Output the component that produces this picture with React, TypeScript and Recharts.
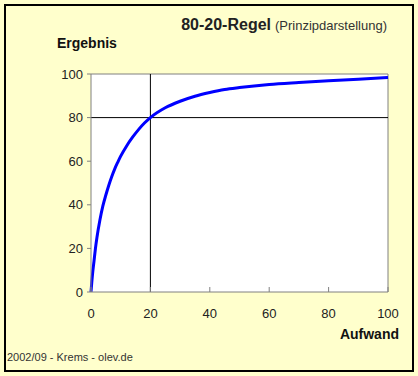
import {
  LineChart,
  Line,
  XAxis,
  YAxis,
  CartesianGrid,
  ReferenceLine,
} from 'recharts'

// Aufwand (x) and Ergebnis (y)
const aufwand = [0, 0.5, 1, 1.5, 2, 3, 4, 5, 6, 7, 8, 9, 10, 12, 14, 16, 18, 20, 25, 30, 35, 40, 45, 50, 60, 70, 80, 90, 100]
const ergebnis = [0, 8, 14, 20, 25, 33, 39.5, 44.5, 49, 53, 56.5, 59.5, 62.3, 67, 71, 74.5, 77.5, 80, 84.5, 87.5, 89.8, 91.5, 92.9, 93.8, 95.2, 96.1, 96.9, 97.6, 98.4]

const ticks = [0, 20, 40, 60, 80, 100]

const data = aufwand.map((x, i) => ({ x, y: ergebnis[i] }))

const FONT = '"Liberation Sans", Arial, sans-serif'
const BG = '#FFFFCC'
const FRAME = '#808080'

function XTick({ x, y, payload }: any) {
  // tickSize is 0, so y = axis line + tickMargin (8)
  const axisY = y - 8
  return (
    <g>
      <line x1={x} x2={x} y1={axisY} y2={axisY - 5} stroke={FRAME} />
      <text x={x} y={axisY + 26} textAnchor="middle" fontSize={13} fill="#222" fontFamily={FONT}>
        {payload.value}
      </text>
    </g>
  )
}

export default function App() {
  return (
    <div style={{ position: 'absolute', left: 0, top: 0, width: 418, height: 376, background: BG }}>
      <div
        style={{
          position: 'absolute',
          left: 4,
          top: 4,
          width: 410,
          height: 368,
          border: '2px solid #000',
          boxSizing: 'border-box',
        }}
      />
      <div style={{ position: 'absolute', left: 0, top: 0 }}>
        <LineChart width={418} height={376} data={data} margin={{ top: 74, right: 30, bottom: 0, left: 0 }}>
          <CartesianGrid horizontal={false} vertical={false} fill="#fff" />
          <XAxis
            dataKey="x"
            type="number"
            domain={[0, 100]}
            ticks={ticks}
            height={84}
            tickSize={0}
            tickMargin={8}
            tick={<XTick />}
            axisLine={{ stroke: FRAME }}
            tickLine={false}
          />
          <YAxis
            type="number"
            domain={[0, 100]}
            ticks={ticks}
            width={91}
            tickSize={4}
            tickMargin={4}
            tick={{ fontSize: 13, fill: '#222', fontFamily: FONT }}
            axisLine={{ stroke: FRAME }}
            tickLine={{ stroke: FRAME }}
          />
          <ReferenceLine y={100} stroke={FRAME} />
          <ReferenceLine x={100} stroke={FRAME} />
          <ReferenceLine x={20} stroke="#000" />
          <ReferenceLine y={80} stroke="#000" />
          <Line
            dataKey="y"
            type="monotone"
            stroke="#0000FF"
            strokeWidth={3}
            dot={false}
            isAnimationActive={false}
          />
        </LineChart>
      </div>
      <svg width={418} height={376} style={{ position: 'absolute', left: 0, top: 0, pointerEvents: 'none' }}>
        <text x={387} y={30} textAnchor="end" fontFamily={FONT} fill="#222">
          <tspan fontSize={16} fontWeight="bold">80-20-Regel</tspan>
          <tspan fontSize={13} fill="#333" dx={4}>(Prinzipdarstellung)</tspan>
        </text>
        <text x={57} y={48} fontSize={14} fontWeight="bold" fontFamily={FONT} fill="#111">
          Ergebnis
        </text>
        <text x={399} y={339} textAnchor="end" fontSize={14} fontWeight="bold" fontFamily={FONT} fill="#111">
          Aufwand
        </text>
        <text x={7} y={361} fontSize={11} fontFamily={FONT} fill="#333">
          2002/09 - Krems - olev.de
        </text>
      </svg>
    </div>
  )
}
